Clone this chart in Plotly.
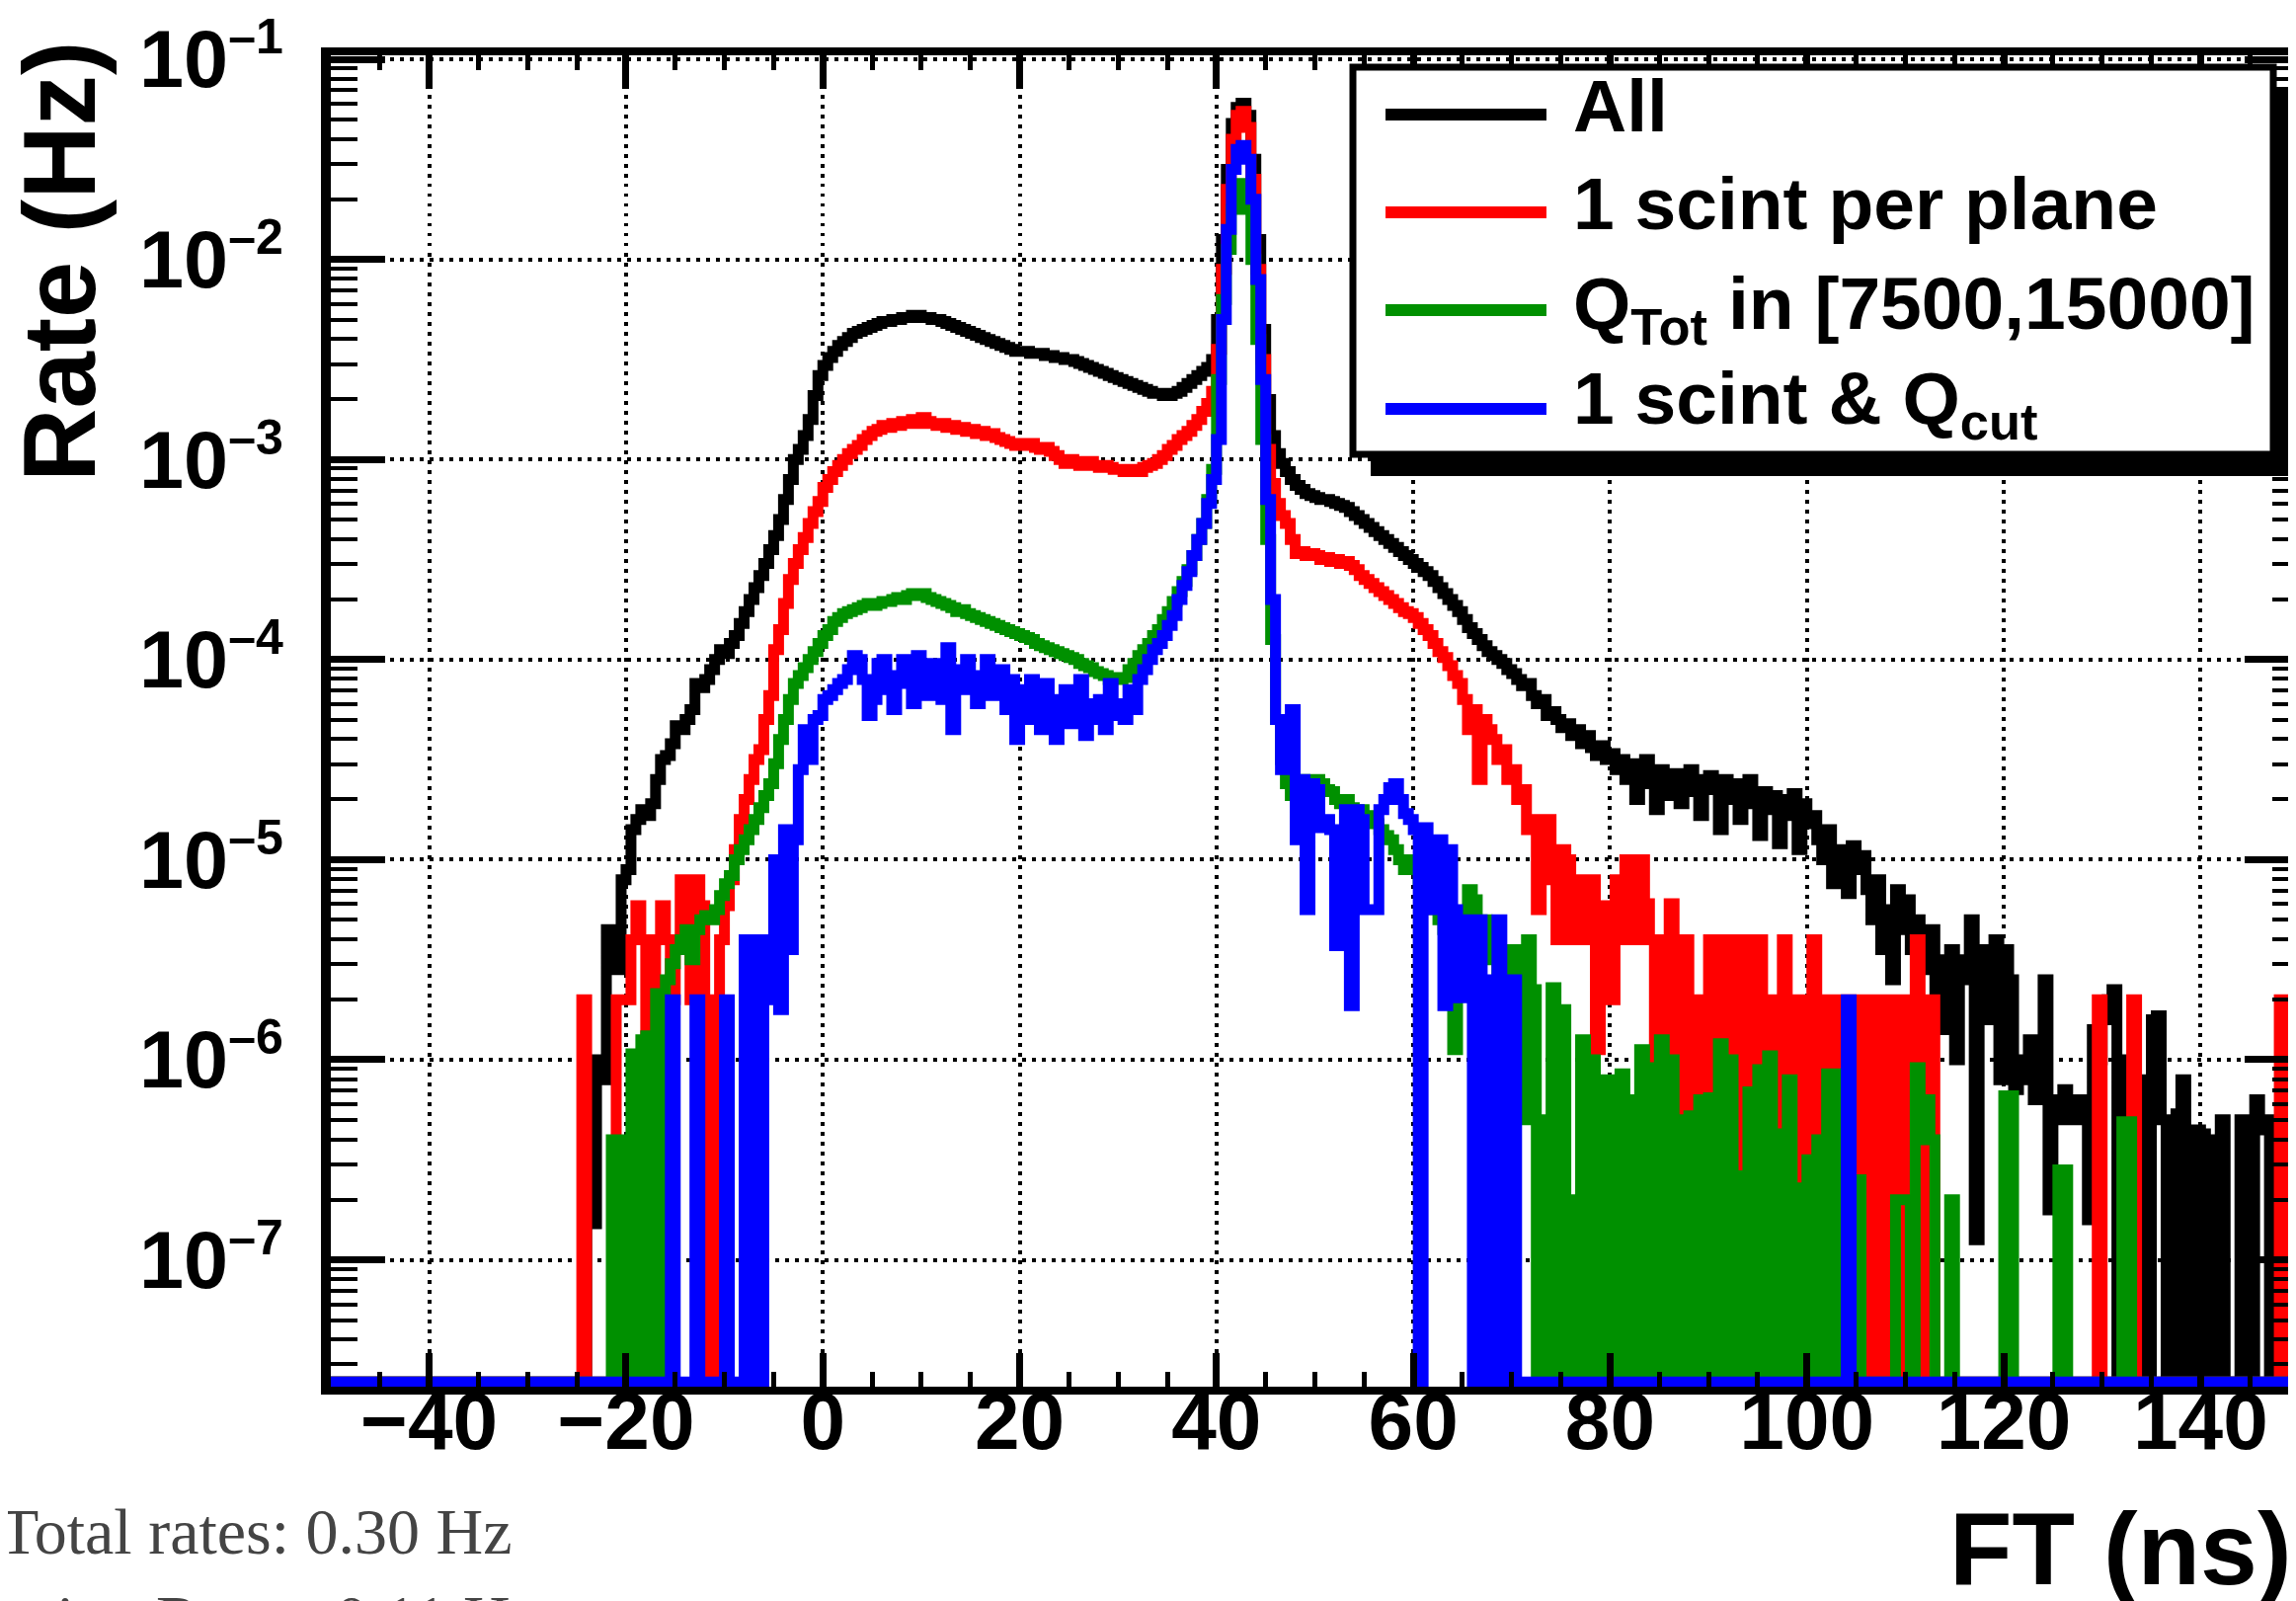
import plotly.graph_objects as go

# ---------------- data ----------------
# Histogram binning of FT (ns)
BIN_LO = -50.0
BIN_WIDTH = 0.5
N_BINS = 400

N = None  # empty bin

# log10(rate / Hz) per 0.5-ns bin, one row = 10 ns
log_rate_all = (
    [N, N, N, N, N, N, N, N, N, N, N, N, N, N, N, N, N, N, N, N] +  # -50
    [N, N, N, N, N, N, N, N, N, N, N, N, N, N, N, N, N, N, N, N] +  # -40
    [N, N, N, N, N, N, N, N, N, N, N, N, -6.82, -6.82, -6.0, -6.1, -5.35, -5.5, -5.55, -5.1] +  # -30
    [-5.05, -4.85, -4.8, -4.75, -4.78, -4.72, -4.6, -4.5, -4.48, -4.42, -4.33, -4.35, -4.3, -4.25, -4.12, -4.14, -4.1, -4.05, -4.0, -3.95] +  # -20
    [-3.97, -3.92, -3.88, -3.82, -3.76, -3.7, -3.64, -3.58, -3.52, -3.45, -3.38, -3.3, -3.2, -3.1, -3.0, -2.95, -2.88, -2.8, -2.68, -2.58] +  # -10
    [-2.53, -2.49, -2.46, -2.43, -2.41, -2.39, -2.37, -2.36, -2.35, -2.34, -2.33, -2.32, -2.31, -2.31, -2.30, -2.30, -2.29, -2.29, -2.28, -2.28] +  # 0
    [-2.29, -2.29, -2.30, -2.30, -2.31, -2.32, -2.33, -2.34, -2.35, -2.36, -2.37, -2.38, -2.39, -2.40, -2.41, -2.42, -2.43, -2.44, -2.45, -2.46] +  # 10
    [-2.46, -2.46, -2.47, -2.47, -2.47, -2.48, -2.48, -2.49, -2.49, -2.50, -2.50, -2.51, -2.52, -2.53, -2.54, -2.55, -2.56, -2.57, -2.58, -2.59] +  # 20
    [-2.60, -2.61, -2.62, -2.63, -2.64, -2.65, -2.66, -2.67, -2.67, -2.68, -2.68, -2.67, -2.66, -2.64, -2.62, -2.60, -2.58, -2.56, -2.54, -2.50] +  # 30
    [-2.30, -1.90, -1.55, -1.32, -1.24, -1.22, -1.28, -1.50, -1.90, -2.35, -2.70, -2.88, -2.97, -3.02, -3.06, -3.10, -3.13, -3.15, -3.17, -3.18] +  # 40
    [-3.19, -3.20, -3.20, -3.21, -3.22, -3.23, -3.24, -3.26, -3.28, -3.30, -3.32, -3.34, -3.36, -3.38, -3.40, -3.42, -3.44, -3.46, -3.48, -3.50] +  # 50
    [-3.52, -3.54, -3.56, -3.58, -3.61, -3.64, -3.67, -3.70, -3.73, -3.76, -3.80, -3.84, -3.87, -3.90, -3.93, -3.96, -3.98, -4.00, -4.02, -4.05] +  # 60
    [-4.07, -4.10, -4.13, -4.12, -4.18, -4.22, -4.20, -4.28, -4.26, -4.30, -4.34, -4.32, -4.38, -4.35, -4.42, -4.38, -4.44, -4.48, -4.43, -4.50] +  # 70
    [-4.47, -4.55, -4.50, -4.60, -4.52, -4.70, -4.58, -4.50, -4.62, -4.75, -4.55, -4.60, -4.68, -4.57, -4.72, -4.60, -4.55, -4.66, -4.78, -4.60] +  # 80
    [-4.58, -4.65, -4.85, -4.60, -4.70, -4.62, -4.80, -4.67, -4.60, -4.72, -4.88, -4.66, -4.75, -4.68, -4.92, -4.70, -4.78, -4.67, -4.95, -4.72] +  # 90
    [-4.82, -4.78, -4.90, -5.00, -4.85, -5.12, -4.95, -5.02, -5.17, -4.93, -5.05, -4.98, -5.15, -5.30, -5.10, -5.45, -5.25, -5.60, -5.15, -5.35] +  # 100
    [-5.20, -5.45, -5.30, -5.55, -5.40, -5.35, -5.70, -5.50, -5.85, -5.45, -6.00, -5.60, -5.50, -5.30, -6.90, -5.45, -5.60, -5.80, -5.40, -6.10] +  # 110
    [-5.45, -5.60, -6.15, -6.10, -6.00, -5.90, -6.20, -6.10, -5.60, -6.75, -6.20, -6.30, -6.15, -6.25, -6.30, -6.20, -6.25, -6.80, -5.85, -6.00] +  # 120
    [-5.80, -5.70, -5.65, N, -6.00, -6.30, N, -6.10, N, N, -5.80, -5.78, -6.30, N, N, -6.27, -6.10, N, N, -6.35] +  # 130
    [-6.37, N, N, -6.40, -6.30, N, N, N, -6.30, -6.45, N, -6.20, -6.30, -6.35, N, -6.30, N, N, -6.00, N]  # 140
)

log_rate_1scint = (
    [N, N, N, N, N, N, N, N, N, N, N, N, N, N, N, N, N, N, N, N] +  # -50
    [N, N, N, N, N, N, N, N, N, N, N, N, N, N, N, N, N, N, N, N] +  # -40
    [N, N, N, N, N, N, N, N, N, N, N, -5.7, N, N, N, N, N, N, -5.7, -5.7] +  # -30
    [-5.7, -5.4, -5.23, -5.4, N, -5.7, -5.4, -5.23, -5.4, -5.7, -5.4, -5.1, -5.4, -5.7, -5.1, -5.23, -5.7, N, -5.7, -5.4] +  # -20
    [-5.23, -5.1, -4.95, -4.8, -4.7, -4.6, -4.5, -4.45, -4.3, -4.18, -3.95, -3.85, -3.72, -3.6, -3.52, -3.45, -3.39, -3.32, -3.26, -3.21] +  # -10
    [-3.14, -3.10, -3.06, -3.03, -3.00, -2.97, -2.95, -2.93, -2.90, -2.88, -2.86, -2.85, -2.83, -2.84, -2.82, -2.83, -2.81, -2.82, -2.80, -2.82] +  # 0
    [-2.79, -2.81, -2.82, -2.83, -2.82, -2.84, -2.83, -2.85, -2.84, -2.86, -2.85, -2.87, -2.86, -2.88, -2.87, -2.89, -2.90, -2.91, -2.92, -2.93] +  # 10
    [-2.92, -2.93, -2.92, -2.94, -2.95, -2.94, -2.96, -2.98, -3.00, -3.02, -3.00, -3.01, -3.03, -3.02, -3.01, -3.03, -3.04, -3.03, -3.04, -3.05] +  # 20
    [-3.05, -3.06, -3.06, -3.05, -3.06, -3.04, -3.03, -3.02, -3.00, -2.98, -2.95, -2.93, -2.90, -2.88, -2.86, -2.83, -2.80, -2.76, -2.72, -2.66] +  # 30
    [-2.45, -2.05, -1.65, -1.40, -1.28, -1.26, -1.34, -1.60, -2.05, -2.50, -2.95, -3.12, -3.22, -3.28, -3.32, -3.40, -3.47, -3.46, -3.48, -3.47] +  # 40
    [-3.48, -3.50, -3.49, -3.51, -3.50, -3.52, -3.51, -3.53, -3.55, -3.58, -3.60, -3.62, -3.64, -3.66, -3.68, -3.70, -3.72, -3.74, -3.76, -3.77] +  # 50
    [-3.79, -3.82, -3.85, -3.88, -3.92, -3.96, -3.99, -4.03, -4.08, -4.12, -4.20, -4.35, -4.25, -4.60, -4.30, -4.35, -4.40, -4.50, -4.45, -4.60] +  # 60
    [-4.55, -4.70, -4.65, -4.85, -4.80, -5.25, -4.90, -4.80, -5.10, -5.40, -4.95, -5.00, -5.40, -5.10, -5.20, -5.40, -5.10, -5.95, -5.23, -5.40] +  # 70
    [-5.70, -5.10, -5.40, -5.00, -5.22, -5.40, -5.00, -5.22, -5.40, N, -5.40, N, -5.22, N, -5.70, -5.40, N, -5.70, N, -5.70] +  # 80
    [-5.40, N, -5.40, N, -5.70, -5.40, N, -5.40, N, -5.70, -5.40, N, -5.70, N, -5.70, -5.40, N, -5.70, N, -5.70] +  # 90
    [N, -5.40, N, -5.70, N, -5.70, N, -5.70, N, -5.70, N, -5.70, -5.70, N, N, -5.70, N, -5.70, N, -5.70] +  # 100
    [N, -5.70, -5.40, N, -5.70, -5.70, N, N, N, N, N, N, N, N, N, N, N, N, N, N] +  # 110
    [N, N, N, N, N, N, N, N, N, N, N, N, N, N, N, N, N, N, N, -5.70] +  # 120
    [N, N, N, N, N, N, -5.70, N, N, N, N, N, N, N, N, N, N, N, N, N] +  # 130
    [N, N, N, N, N, N, N, N, N, N, N, N, N, N, N, N, -5.70, N, N, N]  # 140
)

log_rate_qtot = (
    [N, N, N, N, N, N, N, N, N, N, N, N, N, N, N, N, N, N, N, N] +  # -50
    [N, N, N, N, N, N, N, N, N, N, N, N, N, N, N, N, N, N, N, N] +  # -40
    [N, N, N, N, N, N, N, N, N, N, N, N, N, N, N, N, N, -6.4, N, -6.4] +  # -30
    [N, -5.97, N, -5.9, -5.88, N, -5.67, N, -5.6, -5.52, -5.45, -5.4, -5.35, -5.5, -5.35, -5.3, -5.28, -5.3, -5.25, -5.18] +  # -20
    [-5.12, -5.08, -5.0, -4.95, -4.9, -4.85, -4.8, -4.74, -4.68, -4.62, -4.52, -4.4, -4.3, -4.2, -4.12, -4.08, -4.04, -4.0, -3.96, -3.92] +  # -10
    [-3.88, -3.85, -3.81, -3.79, -3.77, -3.76, -3.75, -3.74, -3.73, -3.72, -3.73, -3.72, -3.71, -3.71, -3.70, -3.69, -3.70, -3.68, -3.67, -3.68] +  # 0
    [-3.67, -3.69, -3.70, -3.71, -3.72, -3.73, -3.74, -3.76, -3.75, -3.77, -3.78, -3.79, -3.80, -3.81, -3.82, -3.83, -3.84, -3.85, -3.86, -3.87] +  # 10
    [-3.88, -3.89, -3.90, -3.92, -3.93, -3.94, -3.95, -3.96, -3.97, -3.98, -3.99, -4.00, -4.02, -4.03, -4.04, -4.06, -4.07, -4.08, -4.10, -4.09] +  # 20
    [-4.10, -4.09, -4.05, -4.02, -3.98, -3.95, -3.92, -3.88, -3.85, -3.80, -3.76, -3.71, -3.66, -3.61, -3.55, -3.48, -3.40, -3.32, -3.20, -3.05] +  # 30
    [-2.60, -2.20, -1.95, -1.75, -1.65, -1.62, -1.75, -2.00, -2.40, -2.90, -3.40, -3.90, -4.30, -4.50, -4.62, -4.68, -4.60, -4.65, -4.62, -4.60] +  # 40
    [-4.60, -4.62, -4.65, -4.66, -4.70, -4.72, -4.70, -4.74, -4.76, -4.75, -4.78, -4.80, -4.82, -4.85, -4.88, -4.90, -4.95, -5.00, -5.05, -5.00] +  # 50
    [-5.05, -5.10, -5.15, -5.20, -5.25, -5.30, -5.35, -5.50, -5.95, -5.60, -5.30, -5.15, -5.20, -5.35, -5.30, -5.40, -5.50, -5.70, -5.60, -5.55] +  # 60
    [-5.45, -5.70, -6.30, -5.40, -5.65, N, -6.30, N, -5.64, N, -5.75, N, -6.70, N, -5.90, N, -6.00, N, -6.10, N] +  # 70
    [-6.10, N, -6.07, N, -6.20, N, -5.95, N, -6.04, N, -5.90, N, -6.00, N, -6.30, N, -6.28, N, -6.20, N] +  # 80
    [-6.19, N, -5.92, N, -6.00, N, -6.58, N, -6.16, N, -6.05, N, -5.98, N, -6.37, N, -6.10, N, -6.64, N] +  # 90
    [-6.50, N, -6.40, N, -6.07, N, -6.60, -6.07, N, -6.60, -6.60, N, N, N, N, N, N, N, -6.70, -6.70] +  # 100
    [-6.70, N, -6.04, -6.40, -6.20, -6.40, N, N, N, -6.70, N, N, N, N, N, N, N, N, N, N] +  # 110
    [-6.18, -6.18, N, N, N, N, N, N, N, N, N, -6.55, -6.55, N, N, N, N, N, N, N] +  # 120
    [N, N, N, N, -6.31, -6.31, N, N, N, N, N, N, N, N, N, N, N, N, N, N] +  # 130
    [N, N, N, N, N, N, N, N, N, N, N, N, N, N, N, N, N, N, N, N]  # 140
)

log_rate_1scint_qcut = (
    [N, N, N, N, N, N, N, N, N, N, N, N, N, N, N, N, N, N, N, N] +  # -50
    [N, N, N, N, N, N, N, N, N, N, N, N, N, N, N, N, N, N, N, N] +  # -40
    [N, N, N, N, N, N, N, N, N, N, N, N, N, N, N, N, N, N, N, N] +  # -30
    [N, N, N, N, N, N, N, N, N, -5.7, N, N, N, N, -5.7, N, N, N, N, N] +  # -20
    [-5.7, N, N, N, -5.4, N, -5.4, N, -5.4, -5.7, -5.0, -5.75, -4.85, -5.45, -4.9, -4.55, -4.35, -4.5, -4.3, -4.28] +  # -10
    [-4.20, -4.18, -4.15, -4.12, -4.10, -4.05, -3.98, -4.00, -4.10, -4.28, -4.20, -4.02, -4.00, -4.15, -4.25, -4.08, -4.00, -4.12, -4.22, -3.98] +  # 0
    [-4.05, -4.18, -4.02, -4.10, -4.20, -3.94, -4.35, -4.05, -4.15, -4.00, -4.08, -4.22, -4.10, -4.00, -4.18, -4.12, -4.05, -4.25, -4.10, -4.40] +  # 10
    [-4.15, -4.30, -4.10, -4.22, -4.35, -4.12, -4.20, -4.40, -4.25, -4.15, -4.32, -4.20, -4.10, -4.38, -4.22, -4.30, -4.20, -4.35, -4.12, -4.28] +  # 20
    [-4.22, -4.30, -4.15, -4.25, -4.10, -4.05, -4.00, -3.95, -3.92, -3.88, -3.83, -3.78, -3.70, -3.63, -3.56, -3.48, -3.40, -3.32, -3.22, -3.10] +  # 30
    [-2.90, -2.30, -1.85, -1.55, -1.45, -1.43, -1.50, -1.70, -2.10, -2.60, -3.20, -3.70, -4.30, -4.55, -4.45, -4.25, -4.90, -4.60, -5.25, -4.62] +  # 40
    [-4.65, -4.84, -4.80, -4.85, -5.43, -4.90, -4.75, -5.73, -4.75, -4.80, -5.25, -5.25, -5.25, -4.75, -4.70, -4.64, -4.62, -4.70, -4.77, -4.80] +  # 50
    [-4.85, N, -4.84, -4.95, -5.25, -4.90, -5.73, -4.95, -5.25, -5.69, -5.69, -5.30, N, -5.30, N, -5.60, N, -5.30, -5.60, N] +  # 60
    [-5.60, N, N, N, N, N, N, N, N, N, N, N, N, N, N, N, N, N, N, N] +  # 70
    [N, N, N, N, N, N, N, N, N, N, N, N, N, N, N, N, N, N, N, N] +  # 80
    [N, N, N, N, N, N, N, N, N, N, N, N, N, N, N, N, N, N, N, N] +  # 90
    [N, N, N, N, N, N, N, N, -5.70, N, N, N, N, N, N, N, N, N, N, N] +  # 100
    [N, N, N, N, N, N, N, N, N, N, N, N, N, N, N, N, N, N, N, N] +  # 110
    [N, N, N, N, N, N, N, N, N, N, N, N, N, N, N, N, N, N, N, N] +  # 120
    [N, N, N, N, N, N, N, N, N, N, N, N, N, N, N, N, N, N, N, N] +  # 130
    [N, N, N, N, N, N, N, N, N, N, N, N, N, N, N, N, N, N, N, N]  # 140
)

series_names = ["All", "1 scint per plane",
                "Q<sub>Tot</sub> in [7500,15000]", "1 scint & Q<sub>cut</sub>"]
series_colors = ["#000000", "#ff0000", "#009000", "#0000ff"]
series_values = [log_rate_all, log_rate_1scint, log_rate_qtot, log_rate_1scint_qcut]

x_tick_values = [-40, -20, 0, 20, 40, 60, 80, 100, 120, 140]
y_tick_exponents = [-7, -6, -5, -4, -3, -2, -1]
note_lines = ["Total rates: 0.30 Hz", "Selection Rates: 0.11 Hz"]

for s in series_values:
    assert len(s) == N_BINS, len(s)

# ---------------- layout geometry (pixels) ----------------
FIG_W, FIG_H = 2325, 1621
L, R, T, B = 327, 2320, 48, 1396
X_RANGE = [BIN_LO, BIN_LO + N_BINS * BIN_WIDTH]
Y_RANGE = [-7.634, -0.98]     # log10 axis range
FLOOR = -7.61                  # empty bins are drawn at the frame bottom (ROOT style)

FONT = "Liberation Sans"
DATA_LW = 11


def px(x):
    return (x - L) / (R - L)


def py(y):
    return (B - y) / (B - T)


edges = [BIN_LO + i * BIN_WIDTH for i in range(N_BINS + 1)]

fig = go.Figure()
for name, color, vals in zip(series_names, series_colors, series_values):
    ys = [10 ** (v if v is not None else FLOOR) for v in vals]
    ys = ys + [ys[-1]]
    fig.add_trace(go.Scatter(
        x=edges, y=ys, mode="lines", name=name,
        line=dict(color=color, width=DATA_LW, shape="hv"),
        showlegend=False, hoverinfo="skip",
    ))

y_tick_vals = [10.0 ** e for e in y_tick_exponents]
y_tick_text = ["10<sup><span style='font-size:50px'>\u2013%d</span></sup>" % (-e)
               for e in y_tick_exponents]

grid_dash = "3.5px,6.5px"
fig.update_xaxes(
    range=X_RANGE, tickmode="array", tickvals=x_tick_values,
    ticks="inside", ticklen=34, tickwidth=7, tickcolor="black",
    minor=dict(ticks="inside", ticklen=15, tickwidth=5, tickcolor="black",
               dtick=5, tick0=0, showgrid=False),
    showgrid=True, gridcolor="black", gridwidth=3.5, griddash=grid_dash,
    showline=True, linewidth=8, linecolor="black", mirror="allticks",
    zeroline=False, ticklabelstandoff=-43, ticklabeloverflow="allow",
    automargin=False,
    tickfont=dict(family=FONT, size=82, color="black", weight="bold"),
)
fig.update_yaxes(
    type="log", range=Y_RANGE, tickmode="array",
    tickvals=y_tick_vals, ticktext=y_tick_text,
    ticks="inside", ticklen=55, tickwidth=7, tickcolor="black",
    minor=dict(ticks="inside", ticklen=27, tickwidth=4, tickcolor="black",
               dtick="D1", showgrid=False),
    showgrid=True, gridcolor="black", gridwidth=3.5, griddash=grid_dash,
    showline=True, linewidth=10, linecolor="black", mirror="allticks",
    zeroline=False, ticklabelstandoff=22, ticklabeloverflow="allow",
    automargin=False,
    tickfont=dict(family=FONT, size=81, color="black", weight="bold"),
)

shapes = []
annotations = []

# legend (ROOT style box with shadow)
shapes.append(dict(type="rect", xref="paper", yref="paper", layer="above",
                   x0=px(1380), x1=px(2320), y0=py(474), y1=py(80),
                   fillcolor="black", line=dict(width=0)))
shapes.append(dict(type="rect", xref="paper", yref="paper", layer="above",
                   x0=px(1362), x1=px(2294), y0=py(452), y1=py(60),
                   fillcolor="white", line=dict(color="black", width=7)))
legend_rows = [108, 207, 306, 406]
text_shift = [-9, -9, -2, -6]
for name, color, yrow, dy in zip(series_names, series_colors, legend_rows, text_shift):
    shapes.append(dict(type="line", xref="paper", yref="paper", layer="above",
                       x0=px(1395), x1=px(1558), y0=py(yrow), y1=py(yrow),
                       line=dict(color=color, width=12)))
    annotations.append(dict(text=name, xref="paper", yref="paper",
                            x=px(1583), y=py(yrow + dy), xanchor="left", yanchor="middle",
                            showarrow=False,
                            font=dict(family=FONT, size=75, color="black", weight="bold")))

# axis titles
annotations.append(dict(text="Rate (Hz)", xref="paper", yref="paper",
                        x=px(52), y=py(257), xanchor="center", yanchor="middle",
                        textangle=-90, showarrow=False,
                        font=dict(family=FONT, size=103, color="black", weight="bold")))
annotations.append(dict(text="FT (ns)", xref="paper", yref="paper",
                        x=px(2315), y=py(1560), xanchor="right", yanchor="middle",
                        showarrow=False,
                        font=dict(family=FONT, size=104, color="black", weight="bold")))

# text under the figure (cropped page text)
annotations.append(dict(text=note_lines[0], xref="paper", yref="paper",
                        x=px(513), y=py(1542), xanchor="right", yanchor="middle",
                        showarrow=False,
                        font=dict(family="Liberation Serif", size=66, color="#444444")))
annotations.append(dict(text=note_lines[1], xref="paper", yref="paper",
                        x=px(540), y=py(1630), xanchor="right", yanchor="middle",
                        showarrow=False,
                        font=dict(family="Liberation Serif", size=66, color="#444444")))

fig.update_layout(
    width=FIG_W, height=FIG_H,
    margin=dict(l=L, r=FIG_W - R, t=T, b=FIG_H - B, pad=0, autoexpand=False),
    plot_bgcolor="white", paper_bgcolor="white",
    showlegend=False,
    shapes=shapes, annotations=annotations,
    font=dict(family=FONT),
)

fig.write_html("out.html")
